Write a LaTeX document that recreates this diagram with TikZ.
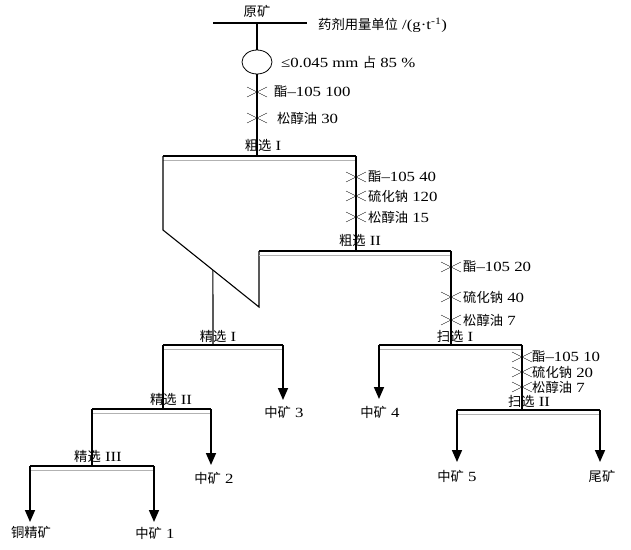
\documentclass[tikz,border=0pt]{standalone}
\usepackage{fontspec}
\setmainfont{Liberation Serif}[FakeStretch=1.2]
\newfontfamily\cjk{Noto Sans CJK SC}[Scale=0.95]
\usetikzlibrary{arrows.meta,shapes.geometric,calc}

\tikzset{
  flow/.style={line width=1.1pt},
  bar/.style={line width=1.8pt},
  barlow/.style={gray!60,line width=0.6pt},
  tail/.style={line width=1.6pt,-{Triangle[width=10pt,length=12pt]}},
  dose/.style={anchor=west,inner sep=0pt},
  stage/.style={inner sep=0pt},
  prod/.style={inner sep=0pt},
  mix/.pic={\draw[line width=0.4pt] (-10,-5) -- (10,5) (-10,5) -- (10,-5);}
}
\newcommand{\zh}[1]{{\cjk #1}}

\begin{document}
\begin{tikzpicture}[x=1pt,y=-1pt,font=\fontsize{14}{16}\selectfont]
\useasboundingbox (0,0) rectangle (631,549);

% Feed
\coordinate (feedL) at (213,23);
\coordinate (feed) at (257,23);
\coordinate (feedR) at (307,23);
\draw[flow] (feedL) -- (feedR);
\node[prod] (raw) at (257,11) {\zh{原矿}};
\node[dose] (unit) at (318,25) {\zh{药剂用量单位} /(g·t\textsuperscript{-1})};

% Grinding
\node[draw,ellipse,line width=0.8pt,minimum width=30pt,minimum height=24pt,inner sep=0pt] (mill) at (257,62) {};
\node[dose] (grind) at (281,62) {≤0.045 mm \zh{占} 85 \%};
\draw[flow] (feed) -- (mill.north);

% Rougher I
\coordinate (r1L) at (163,156);
\coordinate (r1M) at (257,156);
\coordinate (r1R) at (356,156);
\draw[flow] (mill.south) -- (r1M);
\pic at (257,92) {mix};
\pic at (257,118) {mix};
\node[dose] (ro1a) at (274,92) {\zh{酯}–105 100};
\node[dose] (ro1b) at (277,118) {\zh{松醇油} 30};
\draw[bar] (r1L) -- (r1R);
\draw[barlow] ($(r1L)+(0,4)$) -- ($(r1R)+(0,4)$);
\node[stage] (ro1) at (263,145) {\zh{粗选} I};

% Rougher II
\coordinate (r2L) at (259,251);
\coordinate (r2M) at (356,251);
\coordinate (r2R) at (451,251);
\coordinate (fold) at (163,230);
\coordinate (r2foot) at (259,307);
\draw[flow] (r1L) -- (fold) -- (r2foot) -- (r2L);
\draw[flow] (r1R) -- (r2M);
\pic at (356,177) {mix};
\pic at (356,196) {mix};
\pic at (356,217) {mix};
\node[dose] (ro2a) at (368,177) {\zh{酯}–105 40};
\node[dose] (ro2b) at (368,196) {\zh{硫化钠} 120};
\node[dose] (ro2c) at (368,217) {\zh{松醇油} 15};
\draw[bar] (r2L) -- (r2R);
\draw[barlow] ($(r2L)+(0,4)$) -- ($(r2R)+(0,4)$);
\node[stage] (ro2) at (360,240) {\zh{粗选} II};

% Cleaner I
\coordinate (c1top) at ($(fold)!0.52!(r2foot)$);
\coordinate (c1L) at (163,345);
\coordinate (c1M) at (213,345);
\coordinate (c1R) at (283,345);
\draw[flow] (c1top) -- (c1M);
\draw[bar] (c1L) -- (c1R);
\draw[barlow] ($(c1L)+(0,4)$) -- ($(c1R)+(0,4)$);
\node[stage] (cl1) at (218,336) {\zh{精选} I};
\coordinate (m3) at (283,400);
\draw[tail] (c1R) -- (m3);
\node[prod] (mid3) at (284,412) {\zh{中矿} 3};

% Cleaner II
\coordinate (c2L) at (92,409);
\coordinate (c2M) at (163,409);
\coordinate (c2R) at (211,409);
\draw[flow] (c1L) -- (c2M);
\draw[bar] (c2L) -- (c2R);
\draw[barlow] ($(c2L)+(0,4)$) -- ($(c2R)+(0,4)$);
\node[stage] (cl2) at (171,399) {\zh{精选} II};
\coordinate (m2) at (211,465);
\draw[tail] (c2R) -- (m2);
\node[prod] (mid2) at (214,478) {\zh{中矿} 2};

% Cleaner III
\coordinate (c3L) at (30,466);
\coordinate (c3M) at (92,466);
\coordinate (c3R) at (154,466);
\draw[flow] (c2L) -- (c3M);
\draw[bar] (c3L) -- (c3R);
\draw[barlow] ($(c3L)+(0,4)$) -- ($(c3R)+(0,4)$);
\node[stage] (cl3) at (98,456) {\zh{精选} III};
\coordinate (conc) at (30,522);
\coordinate (m1) at (154,522);
\draw[tail] (c3L) -- (conc);
\draw[tail] (c3R) -- (m1);
\node[prod] (cuconc) at (31,532) {\zh{铜精矿}};
\node[prod] (mid1) at (155,533) {\zh{中矿} 1};

% Scavenger I
\coordinate (s1L) at (379,345);
\coordinate (s1M) at (451,345);
\coordinate (s1R) at (522,345);
\draw[flow] (r2R) -- (s1M);
\pic at (451,267) {mix};
\pic at (451,297) {mix};
\pic at (451,320) {mix};
\node[dose] (sc1a) at (463,267) {\zh{酯}–105 20};
\node[dose] (sc1b) at (463,297) {\zh{硫化钠} 40};
\node[dose] (sc1c) at (463,320) {\zh{松醇油} 7};
\draw[bar] (s1L) -- (s1R);
\draw[barlow] ($(s1L)+(0,4)$) -- ($(s1R)+(0,4)$);
\node[stage] (sc1) at (455,336) {\zh{扫选} I};
\coordinate (m4) at (379,399);
\draw[tail] (s1L) -- (m4);
\node[prod] (mid4) at (380,412) {\zh{中矿} 4};

% Scavenger II
\coordinate (s2L) at (457,410);
\coordinate (s2M) at (522,410);
\coordinate (s2R) at (600,410);
\draw[flow] (s1R) -- (s2M);
\pic at (522,357) {mix};
\pic at (522,372) {mix};
\pic at (522,387) {mix};
\node[dose] (sc2a) at (532,357) {\zh{酯}–105 10};
\node[dose] (sc2b) at (532,372) {\zh{硫化钠} 20};
\node[dose] (sc2c) at (532,387) {\zh{松醇油} 7};
\draw[bar] (s2L) -- (s2R);
\draw[barlow] ($(s2L)+(0,4)$) -- ($(s2R)+(0,4)$);
\node[stage] (sc2) at (529,401) {\zh{扫选} II};
\coordinate (m5) at (457,462);
\coordinate (tail) at (600,462);
\draw[tail] (s2L) -- (m5);
\draw[tail] (s2R) -- (tail);
\node[prod] (mid5) at (457,476) {\zh{中矿} 5};
\node[prod] (tails) at (602,476) {\zh{尾矿}};
\end{tikzpicture}
\end{document}
